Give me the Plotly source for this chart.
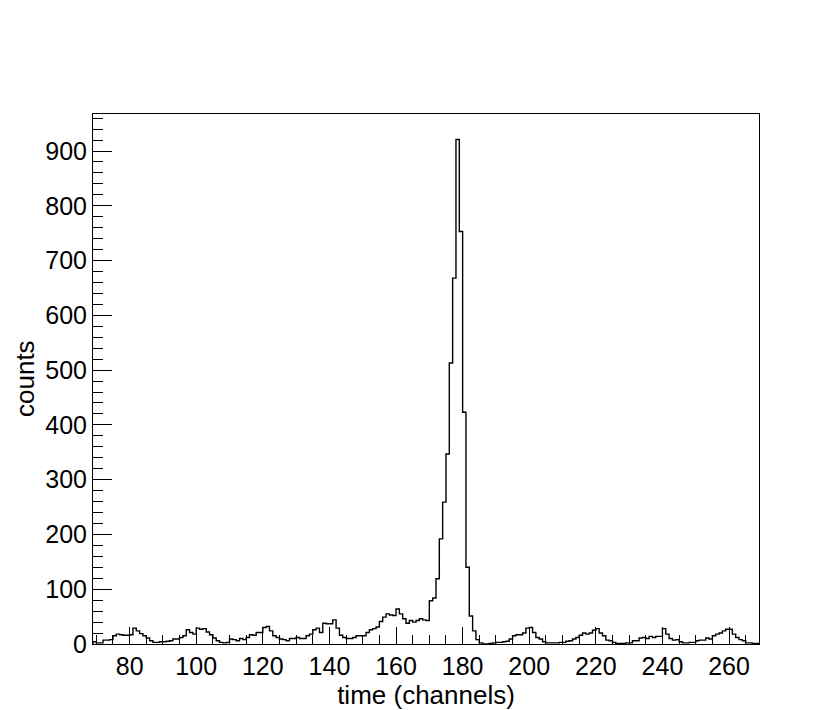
#!/usr/bin/env python3
import plotly.graph_objects as go

# histogram: one bin per channel, first bin starts at channel 69
first_channel = 69
counts = [
    4, 2, 2, 7, 7, 8, 15, 18, 17, 16, 16,            # 69-79
    17, 29, 24, 19, 15, 11, 6, 3, 3, 4,              # 80-89
    4, 5, 6, 9, 9, 12, 15, 26, 21, 18,               # 90-99
    29, 27, 28, 22, 17, 11, 6, 3, 2, 3,              # 100-109
    9, 8, 6, 10, 8, 12, 17, 16, 21, 21,              # 110-119
    30, 32, 24, 15, 12, 9, 8, 6, 10, 10,             # 120-129
    12, 10, 10, 15, 18, 26, 29, 21, 38, 37,          # 130-139
    37, 44, 29, 16, 12, 10, 10, 12, 15, 15,          # 140-149
    15, 21, 26, 28, 31, 41, 49, 55, 53, 52,          # 150-159
    64, 55, 46, 38, 43, 40, 43, 46, 44, 43,          # 160-169
    79, 84, 119, 192, 259, 347, 513, 668, 921, 753,  # 170-179
    423, 140, 51, 24, 8, 2, 0, 0, 1, 2,              # 180-189
    3, 3, 4, 5, 9, 15, 17, 17, 20, 29,               # 190-199
    30, 21, 12, 9, 4, 2, 2, 2, 2, 3,                 # 200-209
    3, 5, 6, 9, 12, 16, 20, 18, 20, 25,              # 210-219
    28, 20, 15, 7, 6, 3, 1, 1, 1, 2,                 # 220-229
    2, 6, 6, 11, 12, 10, 14, 12, 14, 14,             # 230-239
    28, 18, 10, 7, 8, 4, 2, 2, 3, 3,                 # 240-249
    6, 7, 7, 11, 9, 15, 18, 20, 24, 27,              # 250-259
    27, 18, 12, 8, 6, 2, 2, 1, 1,                    # 260-268
]
bin_edges = [first_channel + i for i in range(len(counts) + 1)]

x_title = 'time (channels)'
y_title = 'counts'

# step outline like a ROOT TH1 drawing
xs = [bin_edges[0]] + bin_edges
ys = [0] + counts + [counts[-1]]

fig = go.Figure()
fig.add_trace(go.Scatter(
    x=xs, y=ys, mode='lines', line_shape='hv',
    line=dict(color='black', width=1.4),
    showlegend=False, hoverinfo='skip'
))

family = 'Liberation Sans, Arial, sans-serif'
tick_font = dict(family=family, size=25, color='black')
title_font = dict(family=family, size=26, color='black')

# the page body adds an 8px margin, so the figure is a bit smaller than the window
fig.update_layout(
    width=822, height=702,
    margin=dict(l=85, r=71, t=106, b=66),
    paper_bgcolor='white', plot_bgcolor='white',
    font=tick_font,
)
fig.update_xaxes(
    range=[bin_edges[0], bin_edges[-1]],
    showgrid=False, zeroline=False,
    showline=True, linecolor='black', linewidth=1, mirror=True,
    ticks='inside', ticklen=17, tickwidth=1, tickcolor='black',
    tick0=0, dtick=20, tickfont=tick_font,
    minor=dict(ticks='inside', ticklen=9, dtick=5, tick0=0, tickcolor='black', showgrid=False),
    title=dict(text=x_title, font=title_font, standoff=1),
)
fig.update_yaxes(
    range=[0, 967.6],
    showgrid=False, zeroline=False,
    showline=True, linecolor='black', linewidth=1, mirror=True,
    ticks='inside', ticklen=19, tickwidth=1, tickcolor='black',
    tick0=0, dtick=100, tickfont=tick_font,
    minor=dict(ticks='inside', ticklen=10, dtick=20, tick0=0, tickcolor='black', showgrid=False),
    ticklabelstandoff=0,
)
fig.add_annotation(
    text=y_title, font=title_font, textangle=-90,
    xref='paper', yref='paper', x=0, y=0.5,
    xanchor='center', yanchor='middle', xshift=-68, showarrow=False,
)

fig.write_html('out.html')
